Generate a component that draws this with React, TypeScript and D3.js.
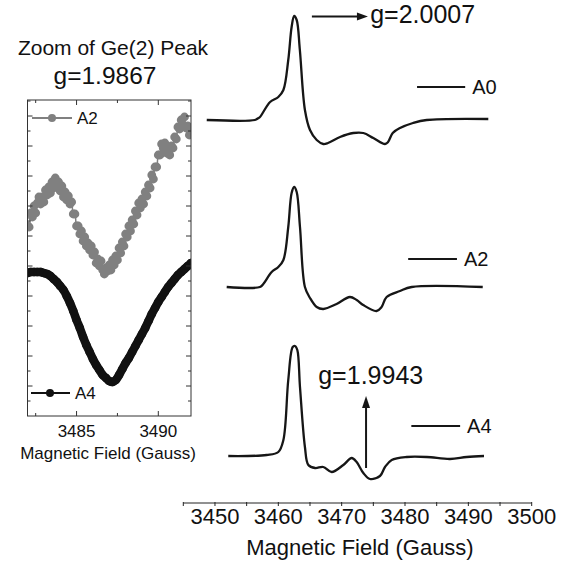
import React from 'react';
import * as d3 from 'd3';

const FONT = "'Liberation Sans', Arial, Helvetica, sans-serif";

// ---------- Main plot data ----------
const mainTicks = [3445, 3450, 3455, 3460, 3465, 3470, 3475, 3480, 3485, 3490, 3495, 3500];
const mainTickLabels = [3450, 3460, 3470, 3480, 3490, 3500];
const mainXLabel = 'Magnetic Field (Gauss)';

const seriesNames = ['A0', 'A2', 'A4'];
const seriesOffsets = [360, 193, 24];

const specA0: [number, number][] = [
  [3448.7, 0], [3456.3, 0], [3456.8, 1.7], [3457.1, 3], [3458.7, 18], [3460.0, 23], [3460.8, 30],
  [3461.57, 60], [3462.1, 93], [3462.5, 104], [3462.9, 100], [3463.4, 70], [3464.2, 10],
  [3465.0, -10], [3466.06, -20], [3467.1, -24], [3467.84, -23], [3469.74, -17], [3471.84, -13],
  [3473.42, -13], [3475.0, -18], [3476.84, -24], [3477.32, -22], [3478.06, -13], [3479.21, -8],
  [3481.26, -3], [3483.43, 0], [3493.15, 1],
];
const specA2: [number, number][] = [
  [3451.85, 0], [3457.1, 0], [3457.63, 3], [3458.95, 15], [3460.0, 20], [3460.8, 27],
  [3461.57, 60], [3462.1, 94], [3462.5, 100], [3462.9, 95], [3463.42, 60], [3464.2, 0],
  [3465.0, -11], [3466.06, -20], [3467.1, -22], [3469.2, -17], [3471.3, -10], [3472.37, -13],
  [3473.4, -18], [3475.5, -24], [3476.3, -20], [3477.1, -10], [3479.2, -4], [3481.06, 0],
  [3492.27, 0],
];
const specA4: [number, number][] = [
  [3452.1, 0], [3458.16, 1], [3460.0, 4], [3460.8, 16], [3461.57, 76], [3462.27, 109],
  [3462.63, 110], [3463.0, 106], [3463.42, 69], [3464.2, 9], [3464.74, -9], [3465.8, -12],
  [3467.1, -11], [3468.42, -16], [3470.26, -9], [3471.58, -2], [3472.37, -6], [3473.42, -17],
  [3474.47, -23], [3476.05, -20], [3476.84, -11], [3477.9, -4], [3480.27, -1], [3483.43, -1],
  [3487.1, -3], [3489.74, -1], [3492.47, 0],
];
const mainSeries = [specA0, specA2, specA4];

// ---------- Inset data ----------
const insetTitle = 'Zoom of Ge(2) Peak';
const insetG = 'g=1.9867';
const insetTicks = [3482.5, 3485, 3487.5, 3490];
const insetTickLabels = [3485, 3490];
const insetNames = ['A2', 'A4'];

const zoomA2: [number, number][] = [
  [3482.0, 190], [3482.1, 189], [3482.2, 203], [3482.3, 199], [3482.4, 210], [3482.5, 203],
  [3482.6, 213], [3482.7, 219], [3482.8, 212], [3482.9, 219], [3483.0, 214], [3483.1, 226],
  [3483.2, 221], [3483.3, 229], [3483.4, 223], [3483.5, 234], [3483.6, 228], [3483.7, 238],
  [3483.8, 232], [3483.9, 234], [3484.0, 225], [3484.1, 230], [3484.2, 219], [3484.3, 224],
  [3484.4, 216], [3484.5, 220], [3484.6, 212], [3484.7, 214], [3484.8, 202], [3484.9, 202],
  [3485.0, 190], [3485.1, 190], [3485.2, 182], [3485.3, 185], [3485.4, 175], [3485.5, 179],
  [3485.6, 170], [3485.7, 173], [3485.8, 166], [3485.9, 170], [3486.0, 161], [3486.1, 164],
  [3486.2, 153], [3486.3, 157], [3486.4, 150], [3486.5, 155], [3486.6, 146], [3486.7, 142],
  [3486.8, 148], [3486.9, 145], [3487.0, 151], [3487.1, 146], [3487.2, 156], [3487.3, 151],
  [3487.4, 160], [3487.5, 156], [3487.6, 168], [3487.7, 163], [3487.8, 174], [3487.9, 170],
  [3488.0, 182], [3488.1, 179], [3488.2, 190], [3488.3, 185], [3488.4, 196], [3488.5, 192],
  [3488.6, 205], [3488.7, 201], [3488.8, 213], [3488.9, 208], [3489.0, 217], [3489.1, 212],
  [3489.2, 224], [3489.3, 220], [3489.4, 231], [3489.5, 228], [3489.6, 241], [3489.7, 237],
  [3489.8, 249], [3489.9, 249], [3490.0, 261], [3490.1, 261], [3490.2, 272], [3490.3, 268],
  [3490.4, 273], [3490.5, 263], [3490.6, 266], [3490.7, 261], [3490.8, 270], [3490.9, 268],
  [3491.0, 279], [3491.1, 277], [3491.2, 289], [3491.3, 287], [3491.4, 296], [3491.5, 291],
  [3491.6, 299], [3491.7, 288], [3491.8, 290], [3491.9, 281], [3492.0, 283],
];
const zoomA4: [number, number][] = [
  [3482.0, 143], [3482.2, 144], [3482.4, 144], [3482.6, 144], [3482.8, 144], [3483.0, 143],
  [3483.2, 142], [3483.4, 140], [3483.6, 137], [3483.8, 134], [3484.0, 130], [3484.2, 126],
  [3484.4, 120], [3484.6, 113], [3484.8, 105], [3485.0, 96], [3485.2, 88], [3485.4, 79],
  [3485.6, 71], [3485.8, 64], [3486.0, 57], [3486.2, 51], [3486.4, 46], [3486.6, 41],
  [3486.8, 38], [3487.0, 35], [3487.2, 34], [3487.4, 36], [3487.6, 41], [3487.8, 47],
  [3488.0, 53], [3488.2, 58], [3488.4, 64], [3488.6, 70], [3488.8, 76], [3489.0, 82],
  [3489.2, 88], [3489.4, 95], [3489.6, 102], [3489.8, 108], [3490.0, 114], [3490.2, 119],
  [3490.4, 124], [3490.6, 129], [3490.8, 133], [3491.0, 137], [3491.2, 141], [3491.4, 144],
  [3491.6, 147], [3491.8, 150], [3492.0, 153],
];

// annotations
const gLabelTop = 'g=2.0007';
const gLabelBottom = 'g=1.9943';

export default function App() {
  const W = 567, H = 566;
  const x = d3.scaleLinear().domain([3445, 3500]).range([183.3, 531.7]);
  const y = d3.scaleLinear().domain([0, 460]).range([480, 20]);
  const axisY = 503;

  const ix = d3.scaleLinear().domain([3482, 3492]).range([27.5, 191]);
  const iy = d3.scaleLinear().domain([0, 316]).range([416, 100]);
  const [ix0, ix1] = ix.range();
  const [iy0, iy1] = [iy(316), iy(0)];

  const lineFor = (off: number) =>
    d3.line<[number, number]>()
      .x(d => x(d[0]))
      .y(d => y(d[1] + off))
      .curve(d3.curveCatmullRom.alpha(0.5));

  const insetLine = d3.line<[number, number]>()
    .x(d => ix(d[0]))
    .y(d => iy(d[1]))
    .curve(d3.curveCatmullRom.alpha(0.5));

  const legendMain = [
    { name: seriesNames[0], x0: 3481.9, x1: 3489.5, v: 393 },
    { name: seriesNames[1], x0: 3480.5, x1: 3488.2, v: 221 },
    { name: seriesNames[2], x0: 3481.0, x1: 3488.7, v: 54 },
  ];

  const sideTicks = d3.range(15, 316, 15);

  const hArrowY = y(463.5);
  const hx0 = x(3465.3), hx1 = x(3474.15);
  const vX = x(3473.85), vy0 = y(12), vy1 = y(84);

  return (
    <svg width={W} height={H} style={{ position: 'absolute', left: 0, top: 0, background: '#fff' }}
      fontFamily={FONT}>
      <rect x={0} y={0} width={W} height={H} fill="#fff" />
      <defs>
        <clipPath id="insetClip">
          <rect x={ix0} y={iy0} width={ix1 - ix0} height={iy1 - iy0} />
        </clipPath>
      </defs>

      {mainSeries.map((s, i) => (
        <path key={i} d={lineFor(seriesOffsets[i])(s) || ''} fill="none" stroke="#161616"
          strokeWidth={2.3} strokeLinejoin="round" />
      ))}

      {legendMain.map((l, i) => (
        <g key={i}>
          <line x1={x(l.x0)} x2={x(l.x1)} y1={y(l.v)} y2={y(l.v)} stroke="#161616" strokeWidth={2} />
          <text x={x(l.x1) + 7} y={y(l.v) + 7} fontSize={20} fill="#111">{l.name}</text>
        </g>
      ))}

      <line x1={hx0} x2={hx1 - 8} y1={hArrowY} y2={hArrowY} stroke="#161616" strokeWidth={2} />
      <path d={`M${hx1},${hArrowY} L${hx1 - 11},${hArrowY - 4} L${hx1 - 11},${hArrowY + 4} Z`} fill="#161616" />
      <text x={x(3474.5)} y={y(457)} fontSize={25} fill="#111">{gLabelTop}</text>

      <line x1={vX} x2={vX} y1={vy0} y2={vy1 + 10} stroke="#161616" strokeWidth={2} />
      <path d={`M${vX},${vy1} L${vX - 4},${vy1 + 12} L${vX + 4},${vy1 + 12} Z`} fill="#161616" />
      <text x={x(3466.3)} y={y(96)} fontSize={25} fill="#111">{gLabelBottom}</text>

      <line x1={x(3445)} x2={x(3500)} y1={axisY} y2={axisY} stroke="#222" strokeWidth={1} />
      {mainTicks.map(t => (
        <line key={t} x1={x(t)} x2={x(t)} y1={axisY - 1} y2={axisY + 3} stroke="#222" strokeWidth={1} />
      ))}
      {mainTickLabels.map(t => (
        <text key={t} x={x(t)} y={524} fontSize={22} textAnchor="middle" fill="#111">{t}</text>
      ))}
      <text x={360} y={555} fontSize={22} textAnchor="middle" fill="#111">{mainXLabel}</text>

      <text x={113} y={55} fontSize={21} textAnchor="middle" fill="#111">{insetTitle}</text>
      <text x={105} y={84} fontSize={24.5} textAnchor="middle" fill="#111">{insetG}</text>

      <g clipPath="url(#insetClip)">
        <path d={insetLine(zoomA2) || ''} fill="none" stroke="#808080" strokeWidth={1.5} />
        {zoomA2.map((d, i) => (
          <circle key={i} cx={ix(d[0])} cy={iy(d[1])} r={4.4} fill="#808080" />
        ))}
        <path d={insetLine(zoomA4) || ''} fill="none" stroke="#111" strokeWidth={8.5} strokeLinecap="round" />
        {zoomA4.map((d, i) => (
          <circle key={i} cx={ix(d[0])} cy={iy(d[1])} r={4.3} fill="#111" />
        ))}
      </g>

      <rect x={ix0} y={iy0} width={ix1 - ix0} height={iy1 - iy0} fill="none" stroke="#333" strokeWidth={1} />
      {insetTicks.map(t => {
        const len = insetTickLabels.includes(t) ? 5 : 3;
        return (
          <g key={t}>
            <line x1={ix(t)} x2={ix(t)} y1={iy1} y2={iy1 - len} stroke="#333" />
            <line x1={ix(t)} x2={ix(t)} y1={iy0} y2={iy0 + len} stroke="#333" />
          </g>
        );
      })}
      {sideTicks.map((t, i) => {
        const len = i % 2 === 1 ? 5 : 3;
        return (
          <g key={t}>
            <line x1={ix0} x2={ix0 + len} y1={iy(t)} y2={iy(t)} stroke="#333" />
            <line x1={ix1} x2={ix1 - len} y1={iy(t)} y2={iy(t)} stroke="#333" />
          </g>
        );
      })}
      {insetTickLabels.map(t => (
        <text key={t} x={ix(t)} y={437} fontSize={17} textAnchor="middle" fill="#111">{t}</text>
      ))}
      <text x={108} y={459} fontSize={17} textAnchor="middle" fill="#111">{mainXLabel}</text>

      <line x1={32} x2={72} y1={118} y2={118} stroke="#808080" strokeWidth={2} />
      <circle cx={52} cy={118} r={4} fill="#808080" />
      <text x={77} y={124} fontSize={17} fill="#111">{insetNames[0]}</text>
      <line x1={31} x2={70} y1={393} y2={393} stroke="#111" strokeWidth={2} />
      <circle cx={50} cy={393} r={4} fill="#111" />
      <text x={75} y={399} fontSize={17} fill="#111">{insetNames[1]}</text>
    </svg>
  );
}
